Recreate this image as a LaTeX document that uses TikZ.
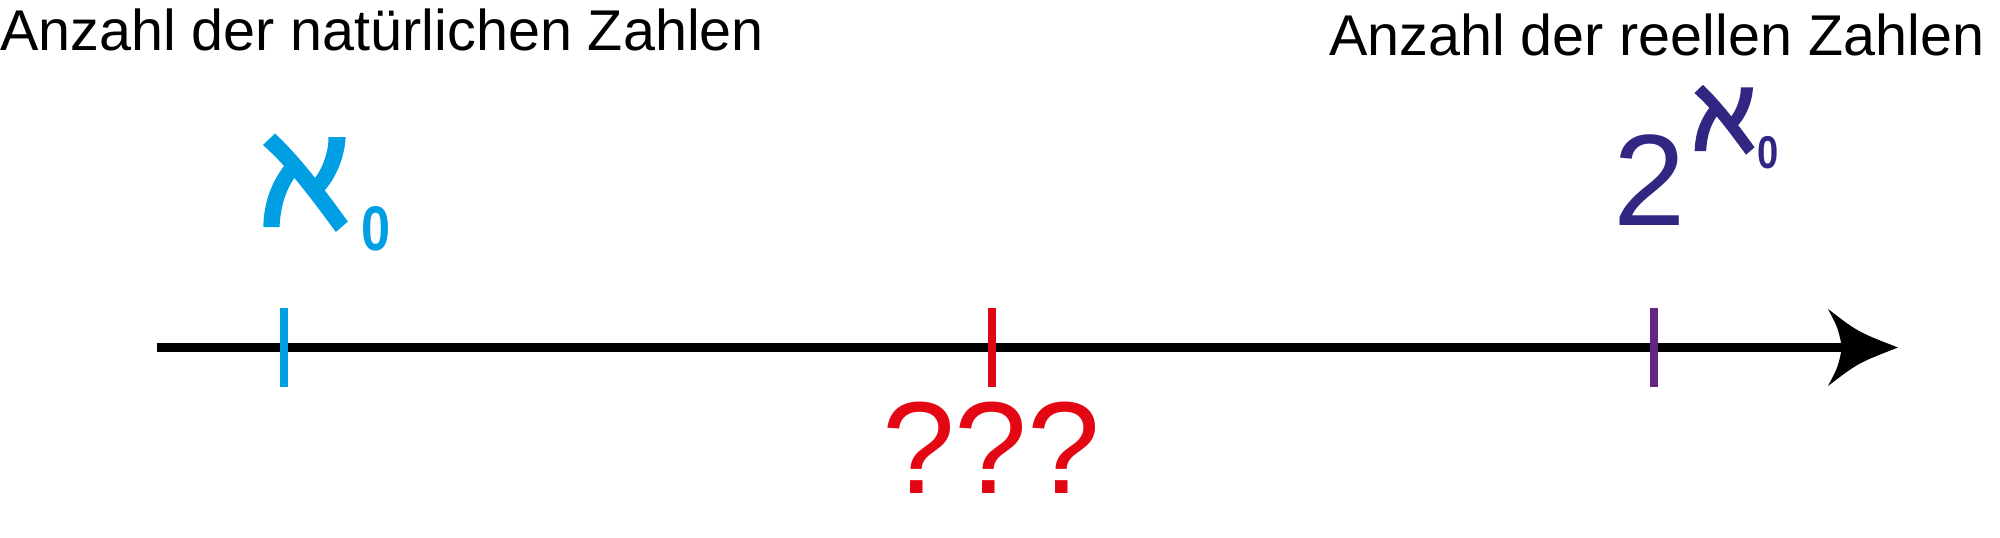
\documentclass[tikz,border=0pt]{standalone}
\usepackage{fontspec}
\setmainfont{Liberation Sans}
\newfontfamily\alephfont[FakeBold=4]{Noto Sans}
\newfontfamily\boldzero{Liberation Sans Bold}
\definecolor{alephblue}{RGB}{0,159,227}
\definecolor{qred}{RGB}{227,6,19}
\definecolor{tickpurple}{RGB}{102,36,131}
\definecolor{indigo}{RGB}{49,39,131}
\tikzset{
  lbl/.style={anchor=base west, inner sep=0pt, outer sep=0pt},
  tickmark/.style={line width=4pt},
  axisline/.style={line width=4.5pt, black}
}
\begin{document}
\begin{tikzpicture}[x=0.5pt,y=-0.5pt]
\useasboundingbox (0,0) rectangle (2000,537);
% labels
\node[lbl] (lnat) at (0,50) {\fontsize{28.75pt}{30pt}\selectfont Anzahl der natürlichen Zahlen};
\node[lbl] (lreal) at (1329,55) {\fontsize{28.75pt}{30pt}\selectfont Anzahl der reellen Zahlen};
% axis
\coordinate (start) at (157,347.5);
\coordinate (notch) at (1842,347.5);
\coordinate (tip) at (1898,347.5);
\draw[axisline] (start) -- (notch);
\fill[black] (tip) .. controls (1858,332) .. (1828,309) .. controls (1838,328) .. (notch) .. controls (1838,367) .. (1828,386) .. controls (1858,363) .. (tip) -- cycle;
% ticks
\coordinate (t1a) at (284,308); \coordinate (t1b) at (284,387);
\coordinate (t2a) at (992,308); \coordinate (t2b) at (992,387);
\coordinate (t3a) at (1654,308); \coordinate (t3b) at (1654,387);
\draw[tickmark, alephblue] (t1a) -- (t1b);
\draw[tickmark, qred] (t2a) -- (t2b);
\draw[tickmark, tickpurple] (t3a) -- (t3b);
% aleph_0
\node[lbl, text=alephblue] (aleph) at (261,224) {\fontsize{72pt}{74pt}\alephfont ℵ};
\node[lbl, text=alephblue, xscale=0.83] (azero) at (361,250) {\fontsize{31.5pt}{33pt}\boldzero 0};
% ???
\node[lbl, text=qred] (qqq) at (882,493) {\fontsize{65.5pt}{67pt}\selectfont ???};
% 2^aleph_0
\node[lbl, text=indigo] (two) at (1613,225) {\fontsize{65pt}{67pt}\selectfont 2};
\node[lbl, text=indigo] (saleph) at (1693,149) {\fontsize{51pt}{53pt}\alephfont ℵ};
\node[lbl, text=indigo, xscale=0.83] (szero) at (1757,168) {\fontsize{23pt}{24pt}\boldzero 0};
\end{tikzpicture}
\end{document}
